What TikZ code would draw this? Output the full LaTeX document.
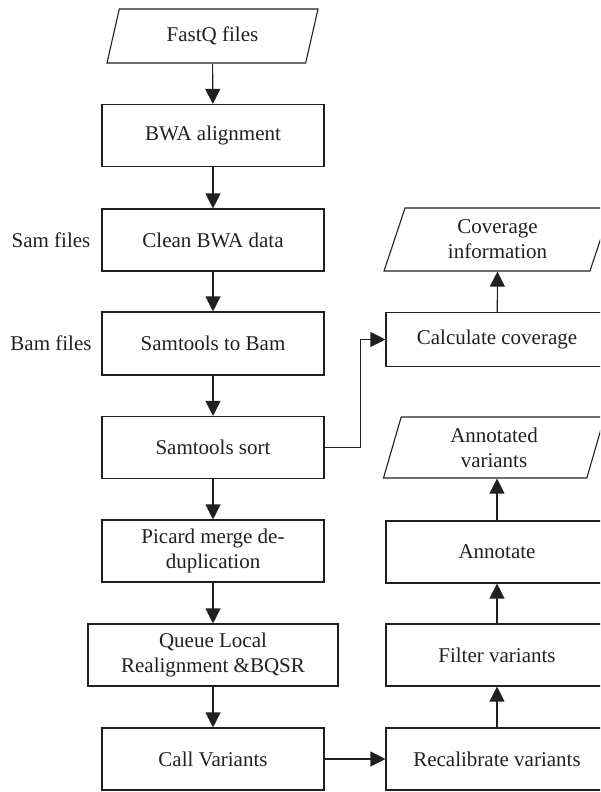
\documentclass[tikz,border=0pt]{standalone}
\usepackage{fontspec}
\setmainfont{Liberation Serif}
\usetikzlibrary{shapes.geometric,arrows.meta}
\definecolor{ink}{RGB}{35,31,32}
\begin{document}
\begin{tikzpicture}[x=1pt,y=-1pt,
  every node/.style={font=\fontsize{21}{25}\selectfont, text=ink},
  procbox/.style={draw=ink, line width=1.1pt, rectangle, minimum width=222pt,
    minimum height=62pt, align=center, inner sep=2pt},
  iobox/.style={draw=ink, line width=1.1pt, trapezium, trapezium stretches body,
    align=center, inner sep=2pt},
  flow/.style={draw=ink, line width=1.1pt, -{Triangle[length=15pt,width=15pt]}}
]
% page frame; the right column runs past the page edge
\clip (0,0) rectangle (600,792);
\useasboundingbox (0,0) rectangle (600,792);

% main pipeline
\node[iobox, trapezium left angle=61, trapezium right angle=119,
  minimum width=211pt, minimum height=54pt] (fastq) at (212.5,36) {FastQ files};
\node[procbox] (bwa) at (213,135.5) {BWA alignment};
\node[procbox] (clean) at (213,240) {Clean BWA data};
\node[procbox, minimum height=63pt] (tobam) at (213,343.5) {Samtools to Bam};
\node[procbox] (sort) at (213,447.5) {Samtools sort};
\node[procbox] (picard) at (213,551) {Picard merge de-\\duplication};
\node[procbox, minimum width=250pt] (queue) at (213,655) {Queue Local\\Realignment \&BQSR};
\node[procbox] (call) at (213,759) {Call Variants};

% file type labels
\node (samlbl) at (51,240) {Sam files};
\node (bamlbl) at (51,343.5) {Bam files};

% coverage branch
\node[iobox, trapezium left angle=64, trapezium right angle=116,
  minimum width=227pt, minimum height=63pt] (covinfo) at (497.5,239.5) {Coverage\\information};
\node[procbox, minimum height=54pt] (calc) at (497,339.5) {Calculate coverage};

% variant branch
\node[iobox, trapezium left angle=68, trapezium right angle=112,
  minimum width=221pt, minimum height=61pt] (annvar) at (494,447.5) {Annotated\\variants};
\node[procbox] (annot) at (497,552) {Annotate};
\node[procbox] (filter) at (497,655) {Filter variants};
\node[procbox] (recal) at (497,759) {Recalibrate variants};

% connectors
\draw[flow] (fastq) -- (bwa);
\draw[flow] (bwa) -- (clean);
\draw[flow] (clean) -- (tobam);
\draw[flow] (tobam) -- (sort);
\draw[flow] (sort) -- (picard);
\draw[flow] (picard) -- (queue);
\draw[flow] (queue) -- (call);
\draw[flow] (sort.east) -- ++(36,0) |- (calc.west);
\draw[flow] (calc) -- (covinfo.south);
\draw[flow] (call) -- (recal);
\draw[flow] (recal) -- (filter);
\draw[flow] (filter) -- (annot);
\draw[flow] (annot.north) -- (annot.north |- annvar.south);
\end{tikzpicture}
\end{document}
